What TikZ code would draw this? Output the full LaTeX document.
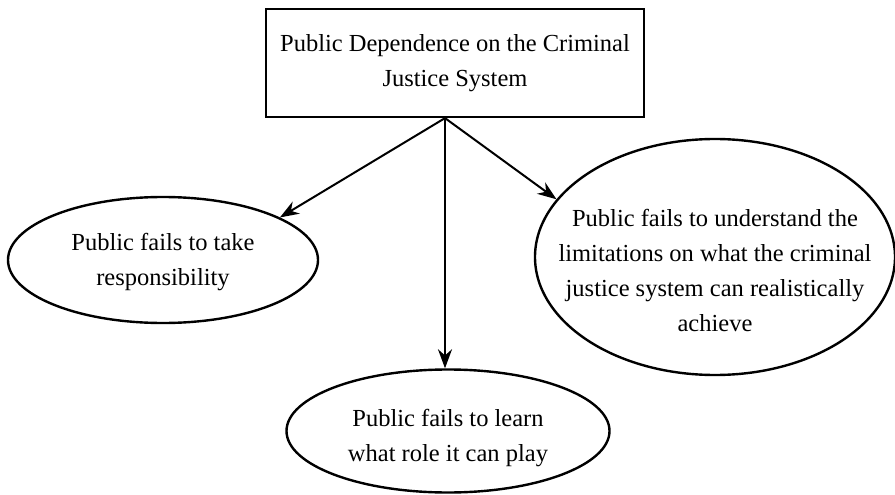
\documentclass[tikz,border=0pt]{standalone}
\usepackage{fontspec}
\setmainfont{Liberation Serif}
\usetikzlibrary{shapes.geometric,arrows.meta}
\begin{document}
\begin{tikzpicture}[x=1pt,y=-1pt,
  txt/.style={align=center,font=\fontsize{24.5}{35}\selectfont,inner sep=0pt},
  oval/.style={draw,ellipse,line width=2.4pt,inner sep=0pt},
  arr/.style={line width=2pt,-{Stealth[length=19pt,width=14pt]}}]
\useasboundingbox (0,0) rectangle (895,495);
\node[draw,line width=2.2pt,minimum width=378pt,minimum height=108pt,inner sep=0pt] (top) at (455,63) {};
\node[txt] (toptext) at (455,63) {Public Dependence on the Criminal\\Justice System};
\node[oval,minimum width=310pt,minimum height=126pt] (L) at (163,260) {};
\node[txt] (Ltext) at (163,262) {Public fails to take\\responsibility};
\node[oval,minimum width=323pt,minimum height=123pt] (B) at (448,431) {};
\node[txt] (Btext) at (448,438) {Public fails to learn\\what role it can play};
\node[oval,minimum width=360pt,minimum height=236pt] (R) at (715,257) {};
\node[txt] (Rtext) at (715,270) {Public fails to understand the\\limitations on what the criminal\\justice system can realistically\\achieve};
\coordinate (S) at ([xshift=-10pt]top.south);
\draw[arr] (S) -- (L.20);
\draw[arr] (S) -- (S |- B.north);
\draw[arr] (S) -- (R.160);
\end{tikzpicture}
\end{document}
